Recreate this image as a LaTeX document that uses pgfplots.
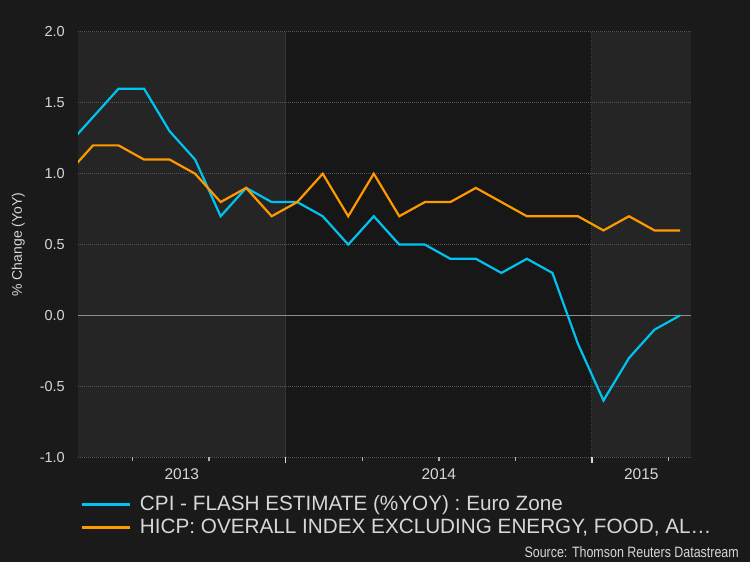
\documentclass[border=0pt]{standalone}
\usepackage{pgfplots}
\pgfplotsset{compat=1.18}
\usepackage{fontspec}
\setmainfont{Liberation Sans}
\newfontfamily\narrowfont[FakeStretch=0.83]{Liberation Sans}
\definecolor{bgc}{RGB}{26,26,26}
\definecolor{shadeA}{RGB}{37,37,37}
\definecolor{shadeB}{RGB}{23,23,23}
\definecolor{gridc}{RGB}{85,85,85}
\definecolor{zeroc}{RGB}{140,140,140}
\definecolor{txt}{RGB}{215,215,215}
\definecolor{cpi}{RGB}{0,195,240}
\definecolor{core}{RGB}{255,153,0}
\pagecolor{bgc}
\pgfplotstableread{
x y
3.45 1.2
4.45 1.4
5.45 1.6
6.45 1.6
7.45 1.3
8.45 1.1
9.45 0.7
10.45 0.9
11.45 0.8
12.45 0.8
13.45 0.7
14.45 0.5
15.45 0.7
16.45 0.5
17.45 0.5
18.45 0.4
19.45 0.4
20.45 0.3
21.45 0.4
22.45 0.3
23.45 -0.2
24.45 -0.6
25.45 -0.3
26.45 -0.1
27.45 0.0
}\cpidata
\pgfplotstableread{
x y
3.45 1.0
4.45 1.2
5.45 1.2
6.45 1.1
7.45 1.1
8.45 1.0
9.45 0.8
10.45 0.9
11.45 0.7
12.45 0.8
13.45 1.0
14.45 0.7
15.45 1.0
16.45 0.7
17.45 0.8
18.45 0.8
19.45 0.9
20.45 0.8
21.45 0.7
22.45 0.7
23.45 0.7
24.45 0.6
25.45 0.7
26.45 0.6
27.45 0.6
}\coredata
\begin{document}
\begin{tikzpicture}
\begin{axis}[
  set layers,
  at={(0,0)}, anchor=south west,
  scale only axis, width=612.7bp, height=425.2bp,
  xmin=3.861, xmax=27.868, ymin=-1, ymax=2,
  axis line style={draw=none},
  xtick={7.93,18,25.934}, xticklabels={2013,2014,2015},
  minor xtick={6,9,15,18,21,27},
  extra x ticks={12,24}, extra x tick labels={},
  extra x tick style={xmajorgrids=true, major tick length=6bp,
     major tick style={draw=white!85!black, line width=1.5bp},
     major grid style={draw=gridc!110, line width=1bp, dash pattern=on 1bp off 1bp}},
  ytick={-1,-0.5,0,0.5,1,1.5,2}, yticklabels={-1.0,-0.5,0.0,0.5,1.0,1.5,2.0},
  extra y ticks={0}, extra y tick labels={},
  extra y tick style={ymajorgrids=true, major grid style={draw=zeroc, solid, line width=1.5bp}},
  ymajorgrids, xmajorgrids=false,
  major grid style={draw=gridc, line width=1bp, dash pattern=on 1bp off 1bp},
  tick align=outside, xtick pos=bottom, ytick pos=left,
  major tick length=0bp, minor tick length=3.5bp,
  ytick style={draw=none},
  minor x tick style={draw=white!70!black, line width=1.5bp},
  x tick label style={font=\fontsize{15.5bp}{18bp}\selectfont, text=txt, inner sep=0pt, yshift=-11bp},
  y tick label style={font=\fontsize{14.5bp}{17bp}\selectfont, text=txt, inner sep=0pt, xshift=-13bp},
  legend style={at={(axis description cs:0,0)}, anchor=north west, xshift=2bp, yshift=-38.5bp,
     draw=none, fill=none, text=txt, font=\fontsize{20.7bp}{25bp}\selectfont,
     inner sep=0pt, row sep=7bp, column sep=9bp, nodes={inner sep=0pt}},
  legend cell align=left,
  legend image code/.code={\draw[line width=2.8bp] (0bp,0bp) -- (48bp,0bp);},
]
\begin{pgfonlayer}{axis background}
\fill[shadeA] (axis cs:3.861,-1) rectangle (axis cs:12,2);
\fill[shadeB] (axis cs:12,-1) rectangle (axis cs:24,2);
\fill[shadeA] (axis cs:24,-1) rectangle (axis cs:27.868,2);
\end{pgfonlayer}
\addplot[cpi, line width=2.2bp] table[x=x,y=y] {\cpidata};
\addlegendentry{CPI - FLASH ESTIMATE (\%YOY) : Euro Zone}
\addplot[core, line width=2.2bp] table[x=x,y=y] {\coredata};
\addlegendentry{HICP: OVERALL INDEX EXCLUDING ENERGY, FOOD, AL…}
\end{axis}
\node[rotate=90, anchor=base, text=txt, font=\fontsize{14bp}{17bp}\selectfont] at (-56bp,212.6bp) {\% Change (YoY)};
\node[anchor=base east, inner sep=0pt, text=txt, font=\narrowfont\fontsize{15bp}{18bp}\selectfont] at (661bp,-100.1bp) {Source: Thomson Reuters Datastream};
\pgfresetboundingbox
\path[use as bounding box] (-78bp,-104.8bp) rectangle (672bp,457.2bp);
\end{tikzpicture}
\end{document}
